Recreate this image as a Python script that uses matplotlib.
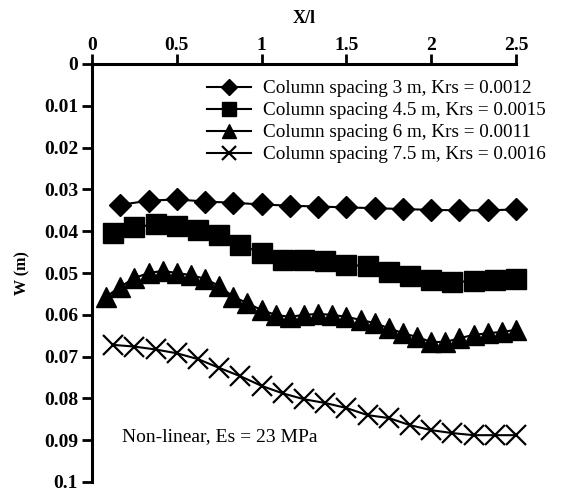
import matplotlib
matplotlib.use("Agg")
import matplotlib.pyplot as plt
import numpy as np

# data
x_s1 = [k / 6 for k in range(1, 16)]
w_s1 = [0.0337, 0.0327, 0.0324, 0.0329, 0.0332, 0.0336, 0.0339, 0.0341, 0.0343,
        0.0345, 0.0347, 0.0349, 0.0350, 0.0350, 0.0348]
x_s2 = [k * 0.125 for k in range(1, 21)]
w_s2 = [0.0404, 0.0391, 0.0383, 0.0388, 0.0396, 0.0408, 0.0433, 0.0452, 0.0468, 0.0468,
        0.0471, 0.0481, 0.0483, 0.0498, 0.0507, 0.0517, 0.0522, 0.0519, 0.0517, 0.0514]
x_s3 = [k / 12 for k in range(1, 31)]
w_s3 = [0.0557, 0.0533, 0.0512, 0.0500, 0.0495, 0.0500, 0.0505, 0.0514, 0.0531, 0.0557,
        0.0572, 0.0589, 0.0600, 0.0605, 0.0600, 0.0598, 0.0600, 0.0605, 0.0612, 0.0620,
        0.0632, 0.0644, 0.0653, 0.0665, 0.0665, 0.0656, 0.0648, 0.0644, 0.0641, 0.0636]
x_s4 = [k * 0.125 for k in range(1, 21)]
w_s4 = [0.0672, 0.0676, 0.0683, 0.0692, 0.0706, 0.0727, 0.0747, 0.0770, 0.0788, 0.0802,
        0.0811, 0.0823, 0.0840, 0.0847, 0.0864, 0.0876, 0.0883, 0.0888, 0.0888, 0.0888]
labels = ["Column spacing 3 m, Krs = 0.0012",
          "Column spacing 4.5 m, Krs = 0.0015",
          "Column spacing 6 m, Krs = 0.0011",
          "Column spacing 7.5 m, Krs = 0.0016"]
xticks = [0, 0.5, 1, 1.5, 2, 2.5]
xticklabels = ["0", "0.5", "1", "1.5", "2", "2.5"]
yticks = [0, 0.01, 0.02, 0.03, 0.04, 0.05, 0.06, 0.07, 0.08, 0.09, 0.1]
yticklabels = ["0", "0.01", "0.02", "0.03", "0.04", "0.05", "0.06", "0.07", "0.08", "0.09", "0.1"]

plt.rcParams['font.family'] = ['Liberation Serif', 'DejaVu Serif']

W, H = 562, 499
fig = plt.figure(figsize=(W / 100, H / 100), dpi=100)
left, right, top, bottom = 92, 516, 64, 482
ax = fig.add_axes([left / W, 1 - bottom / H, (right - left) / W, (bottom - top) / H])

lw = 1.5
ax.plot(x_s1, w_s1, color='black', lw=lw, marker='D', ms=11, label=labels[0])
ax.plot(x_s2, w_s2, color='black', lw=lw, marker='s', ms=15, label=labels[1])
ax.plot(x_s3, w_s3, color='black', lw=lw, marker='^', ms=14, label=labels[2])
ax.plot(x_s4, w_s4, color='black', lw=lw, marker='x', ms=14, mew=1.6, label=labels[3])

ax.set_xlim(0, 2.5)
ax.set_ylim(0.1, 0)
ax.xaxis.tick_top()
ax.xaxis.set_label_position('top')
ax.set_xticks(xticks)
ax.set_xticklabels(xticklabels, fontsize=14, fontweight='bold')
ax.set_yticks(yticks)
ax.set_yticklabels(yticklabels, fontsize=14, fontweight='bold')
ax.tick_params(axis='both', direction='out', length=7, width=2, color='black')
ax.tick_params(axis='y', pad=3)
ax.tick_params(axis='x', pad=0)
for s in ['right', 'bottom']:
    ax.spines[s].set_visible(False)
for s in ['left', 'top']:
    ax.spines[s].set_linewidth(2.2)
ax.set_xlabel('X/l', fontsize=13, fontweight='bold', labelpad=10)
ax.set_ylabel('W (m)', fontsize=11.5, fontweight='bold', labelpad=10)

ax.text(0.177, 0.0892, 'Non-linear, Es = 23 MPa', fontsize=14, ha='left', va='center')

leg = ax.legend(loc='upper left', frameon=False, fontsize=13.8, handlelength=2.3,
                labelspacing=0.24, borderaxespad=0, borderpad=0, handletextpad=0.62,
                markerscale=0.7, bbox_to_anchor=(207 / W, 1 - 80 / H),
                bbox_transform=fig.transFigure)
for l in ax.get_lines():
    l.set_clip_on(False)

fig.savefig('out.png', dpi=100)
